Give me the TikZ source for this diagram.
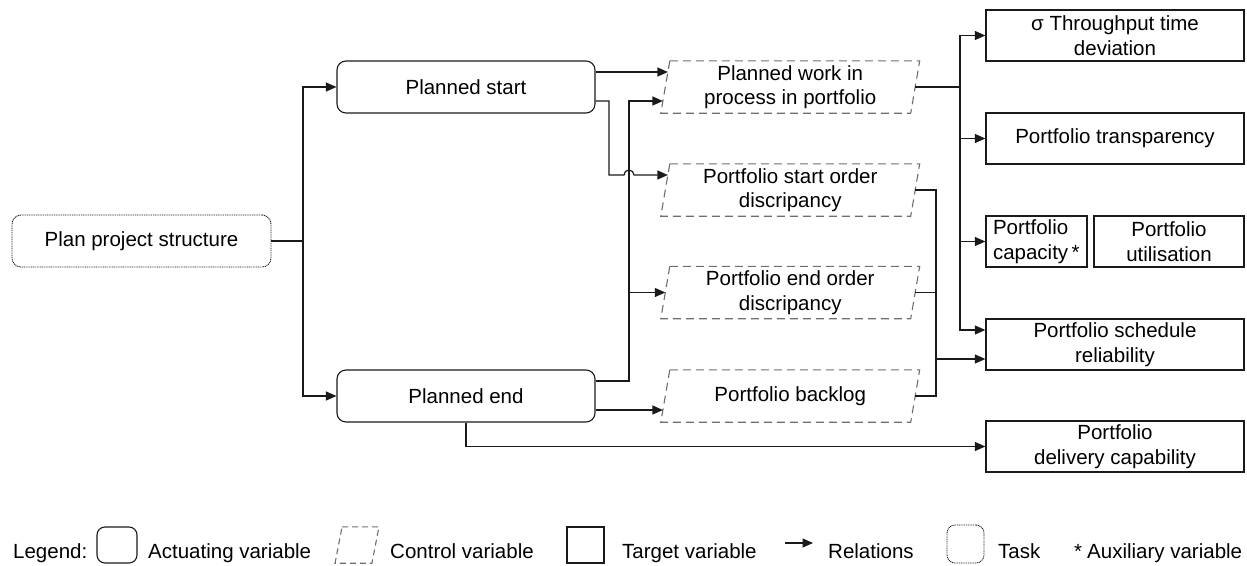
\documentclass[tikz,border=0pt]{standalone}
\usepackage{fontspec}
\setmainfont{Liberation Sans}
\usetikzlibrary{arrows.meta,calc}
\definecolor{ln}{HTML}{1A1A1A}
\definecolor{dashgray}{HTML}{6E6E6E}
\tikzset{
  txt/.style={font=\fontsize{20.5}{24.5}\selectfont, align=center, inner sep=0pt},
  actbox/.style={txt, draw=ln, line width=1.1pt, rounded corners=9pt, minimum width=258pt, minimum height=52pt},
  taskbox/.style={txt, draw=ln, line width=0.9pt, dash pattern=on 1pt off 0.8pt, rounded corners=9pt, minimum width=259pt, minimum height=52pt},
  ctrlnode/.style={txt, minimum width=249.5pt, minimum height=52pt},
  ctrlline/.style={draw=dashgray, line width=1.1pt, dash pattern=on 8pt off 5pt},
  tgtbox/.style={txt, draw=ln, line width=1.3pt, minimum width=258pt, minimum height=51pt},
  conn/.style={draw=ln, line width=1.2pt},
  rel/.style={conn, -{Triangle[length=10.5pt,width=9pt]}},
  legtext/.style={font=\fontsize{20.5}{24.5}\selectfont, inner sep=0pt, anchor=base west},
}
\newcommand{\ctrlshape}[1]{%
  \path[ctrlline] ($(#1.north west)+(4.5pt,0)$) -- ($(#1.north east)+(4.5pt,0)$)
    -- ($(#1.south east)-(4.5pt,0)$) -- ($(#1.south west)-(4.5pt,0)$) -- cycle;}
\begin{document}
\begin{tikzpicture}[x=1pt,y=-1pt]
\path[use as bounding box] (0,0) rectangle (1247,565);

% nodes
\node[taskbox] (pps) at (141.5,241) {Plan project structure};
\node[actbox] (ps) at (466,87) {Planned start};
\node[actbox] (pe) at (466,396) {Planned end};

\node[ctrlnode] (pw) at (790.25,87) {Planned work in\\process in portfolio};
\node[ctrlnode] (so) at (790.25,190) {Portfolio start order\\discripancy};
\node[ctrlnode] (eo) at (790.25,292.5) {Portfolio end order\\discripancy};
\node[ctrlnode] (bl) at (790.25,396) {Portfolio backlog};
\ctrlshape{pw}\ctrlshape{so}\ctrlshape{eo}\ctrlshape{bl}

\node[tgtbox] (tt) at (1115,35.5) {σ Throughput time\\deviation};
\node[tgtbox] (tr) at (1115,138.5) {Portfolio transparency};
\node[tgtbox, minimum width=101pt, text width=87pt, align=left] (cap) at (1036.5,241.5) {Portfolio\\\mbox{capacity\,*}};
\node[tgtbox, minimum width=150pt] (ut) at (1169,241.5) {Portfolio\\utilisation};
\node[tgtbox] (sr) at (1115,344.5) {Portfolio schedule\\reliability};
\node[tgtbox] (dc) at (1115,446.5) {Portfolio\\delivery capability};

% junction coordinates
\coordinate (j1) at (303,241);
\coordinate (j2) at (629,381);
\coordinate (j3) at (960,87);
\coordinate (j4) at (936,359);

% connectors
\draw[conn] (pps.east) -- (j1);
\draw[rel] (j1) |- (ps.west);
\draw[rel] (j1) |- (pe.west);

\draw[rel] (ps.east |- 0,72) -- ($(pw.west |- 0,72)+(2.6pt,0)$);
\draw[rel] (ps.east |- 0,101) -- (609,101) -- (609,175) -- (624,175)
  arc[start angle=180, end angle=0, radius=5pt] -- ($(so.west |- 0,175)+(2.6pt,0)$);

\draw[rel] (pe.east |- j2) -- (j2) -- (629,101) -- ($(pw.west |- 0,101)-(2.4pt,0)$);
\draw[rel] (629,292.5) -- (eo.west);
\draw[rel] (pe.east |- 0,410) -- ($(bl.west |- 0,410)-(2.4pt,0)$);
\draw[rel] (pe.south) |- (dc.west);

\draw[conn] (pw.east) -- (j3);
\draw[rel] (j3) |- (tt.west);
\draw[rel] (j3) |- (tr.west);
\draw[rel] (j3) |- (cap.west);
\draw[rel] (j3) |- (sr.west |- 0,330);

\draw[conn] (so.east) -| (936,396) -- (bl.east);
\draw[conn] (eo.east) -- (eo.east -| j4);
\draw[rel] (j4) -- (sr.west |- j4);

% legend
\node[legtext] (l1) at (13,558) {Legend:};
\node[draw=ln, line width=1.1pt, rounded corners=8pt, minimum width=40pt, minimum height=36pt, inner sep=0pt] (la) at (117,545) {};
\node[legtext] (l2) at (148,558) {Actuating variable};
\node[minimum width=36.5pt, minimum height=36pt, inner sep=0pt] (lc) at (357,545) {};
\path[ctrlline, dash pattern=on 6pt off 4pt] ($(lc.north west)+(3.5pt,0)$) -- ($(lc.north east)+(3.5pt,0)$)
    -- ($(lc.south east)-(3.5pt,0)$) -- ($(lc.south west)-(3.5pt,0)$) -- cycle;
\node[legtext] (l3) at (390,558) {Control variable};
\node[draw=ln, line width=1.3pt, minimum width=37pt, minimum height=36pt, inner sep=0pt] (lt) at (585.5,545) {};
\node[legtext] (l4) at (622,558) {Target variable};
\coordinate (ra) at (785,543);
\coordinate (rb) at (813,543);
\draw[rel] (ra) -- (rb);
\node[legtext] (l5) at (828,558) {Relations};
\node[draw=ln, line width=0.9pt, dash pattern=on 1pt off 0.8pt, rounded corners=8pt, minimum width=37pt, minimum height=38pt, inner sep=0pt] (lk) at (965.5,544) {};
\node[legtext] (l6) at (998,558) {Task};
\node[legtext] (l7) at (1074,558) {*};
\node[legtext] (l8) at (1087,558) {Auxiliary variable};
\end{tikzpicture}
\end{document}
